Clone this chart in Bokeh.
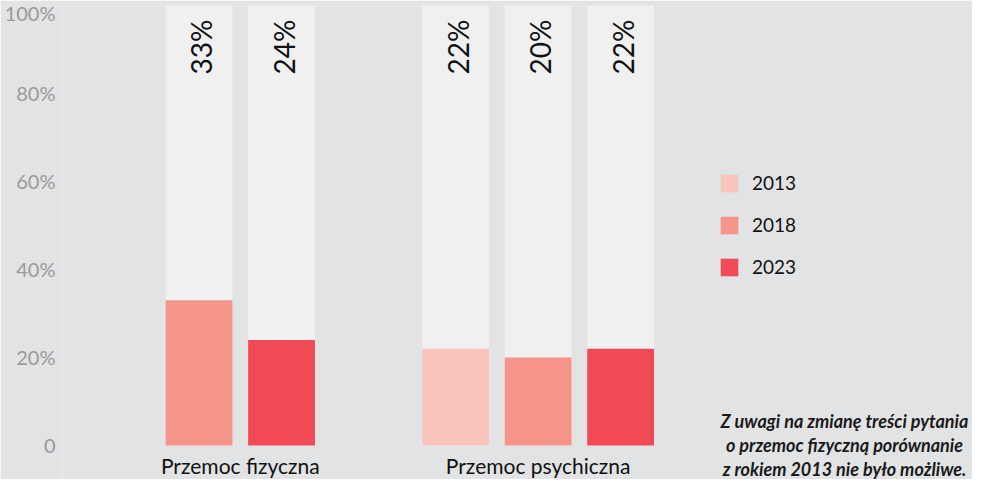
import math
from bokeh.plotting import figure
from bokeh.models import (Range1d, ColumnDataSource, FixedTicker,
                          Legend, LegendItem, Label)
from bokeh.core.properties import value
from bokeh.embed import file_html
from bokeh.resources import INLINE

# ---- data ----
categories = ["Przemoc fizyczna", "Przemoc psychiczna"]
years = ["2013", "2018", "2023"]
fizyczna = [None, 33, 24]
psychiczna = [22, 20, 22]
y_ticks = [0, 20, 40, 60, 80, 100]
y_tick_labels = ["0", "20%", "40%", "60%", "80%", "100%"]
year_colors = ["#f9c4bb", "#f59489", "#ef4a56"]
note_lines = ["Z uwagi na zmianę treści pytania",
              "o przemoc fizyczną porównanie",
              "z rokiem 2013 nie było możliwe."]

BG = "#e2e3e5"
BAR_BG = "#f0f0f1"
FONT = "Lato"
GROUP_GAP = 1.11   # extra slot spacing between category groups
BAR_W = 0.81

series = {categories[0]: fizyczna, categories[1]: psychiczna}

# slot positions for every (category, year) bar that exists
bar_x, bar_top, bar_year = [], [], []
group_center = []
pos = 0.0
for c in categories:
    xs_c = []
    for yr, v in zip(years, series[c]):
        if v is None:
            continue
        bar_x.append(pos)
        bar_top.append(v)
        bar_year.append(yr)
        xs_c.append(pos)
        pos += 1
    group_center.append(sum(xs_c) / len(xs_c))
    pos += GROUP_GAP

p = figure(width=972, height=479,
           x_range=Range1d(-1.655, 9.375),
           y_range=Range1d(-7.73, 100),
           output_backend="svg", toolbar_location=None,
           min_border_left=62, min_border_right=0, min_border_top=5, min_border_bottom=0)

p.background_fill_color = BG
p.border_fill_color = BG
p.outline_line_color = None
p.xgrid.visible = False
p.ygrid.visible = False
p.xaxis.visible = False

ya = p.yaxis[0]
ya.ticker = FixedTicker(ticks=y_ticks)
ya.major_label_overrides = {t: l for t, l in zip(y_ticks, y_tick_labels)}
ya.axis_line_color = None
ya.major_tick_line_color = None
ya.minor_tick_line_color = None
ya.major_tick_out = 0
ya.major_tick_in = 0
ya.major_label_standoff = 7
ya.major_label_text_color = "#9a9a9a"
ya.major_label_text_font = FONT
ya.major_label_text_font_size = "20px"

# background (100%) bars
p.vbar(x=bar_x, top=100, width=BAR_W, color=BAR_BG, line_color=None)

items = []
for yr, col in zip(years, year_colors):
    xs = [x for x, y in zip(bar_x, bar_year) if y == yr]
    ts = [t for t, y in zip(bar_top, bar_year) if y == yr]
    src = ColumnDataSource(dict(x=xs, top=ts))
    r = p.vbar(x="x", top="top", width=BAR_W, source=src, color=col, line_color=None)
    items.append(LegendItem(label=yr, renderers=[r]))

# value labels (rotated, at the top of each bar)
lab_src = ColumnDataSource(dict(x=bar_x, y=[100] * len(bar_x),
                                text=[f"{v}%" for v in bar_top]))
p.text(x="x", y="y", text="text", source=lab_src, angle=math.pi / 2,
       text_align="right", text_baseline="middle", y_offset=14, x_offset=2,
       text_font=value(FONT), text_font_size="28px", text_color="#111111")

# category labels
cat_src = ColumnDataSource(dict(x=group_center, y=[0] * len(categories), text=categories))
p.text(x="x", y="y", text="text", source=cat_src, text_align="center",
       text_baseline="bottom", y_offset=33, text_font=value(FONT),
       text_font_size="21px", text_color="#111111")

legend = Legend(items=items, location=(656, 201), glyph_width=22, glyph_height=22,
                label_height=22, spacing=19, padding=0, margin=0, label_standoff=12,
                background_fill_alpha=0, border_line_color=None,
                label_text_font=FONT, label_text_font_size="19px", label_text_color="#111111")
p.add_layout(legend)

for i, line in enumerate(note_lines):
    p.add_layout(Label(x=782, y=59 - 24 * i, x_units="screen", y_units="screen", text=line,
                       text_align="center", text_baseline="middle",
                       text_font=FONT, text_font_style="bold italic",
                       text_font_size="18px", text_color="#1a1a1a"))

open("out.html", "w").write(file_html(p, INLINE))
